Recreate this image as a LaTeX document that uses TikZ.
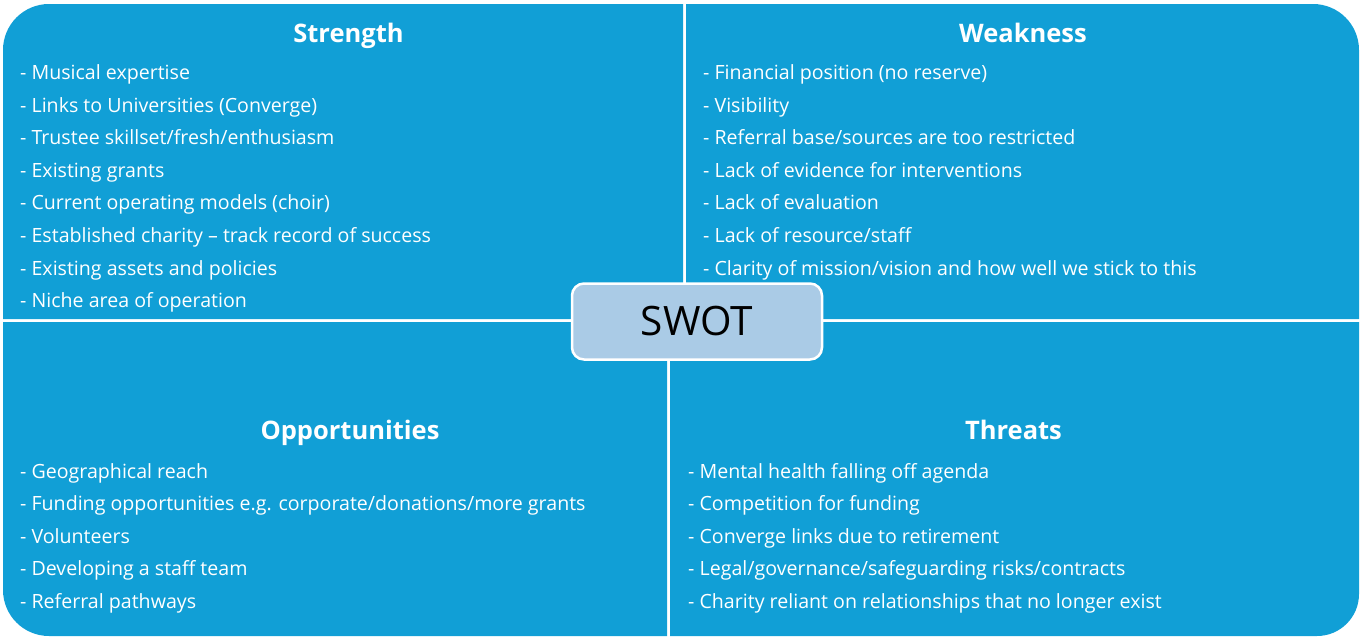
\documentclass[tikz,border=0pt]{standalone}
\usepackage{fontspec}
\setmainfont{Open Sans}
\definecolor{quadblue}{RGB}{17,159,214}
\definecolor{swotfill}{RGB}{170,203,230}
\begin{document}
\begin{tikzpicture}[x=1pt, y=-1pt,
	quad/.style={fill=quadblue, draw=none},
	title/.style={text=white, anchor=base, inner sep=0pt, font=\fontsize{25.5}{30}\selectfont\bfseries},
	item/.style={text=white, anchor=base west, inner sep=0pt, font=\fontsize{19.6}{24}\selectfont},
	swotbox/.style={rectangle, rounded corners=12, draw=white, line width=2.5pt, fill=swotfill, minimum width=250, minimum height=76, font=\fontsize{40.5}{48}\selectfont}]
		\useasboundingbox (0,0) rectangle (1361,638);
		
		% four quarters, outer corners rounded
		\fill[quad] (3,160) [rounded corners=46] -- (3,4) -- (340,4) [sharp corners] -- (683,4) -- (683,319) -- (3,319) -- cycle;
		\fill[quad] (1000,4) [rounded corners=46] -- (1359,4) -- (1359,160) [sharp corners] -- (1359,319) -- (686,319) -- (686,4) -- cycle;
		\fill[quad] (3,480) [rounded corners=46] -- (3,636) -- (340,636) [sharp corners] -- (667,636) -- (667,322) -- (3,322) -- cycle;
		\fill[quad] (1000,636) [rounded corners=42] -- (1359,636) -- (1359,480) [sharp corners] -- (1359,322) -- (670,322) -- (670,636) -- cycle;
		
		\node (swot) at (697,321.5) [swotbox] {SWOT};
		
		\node (st) at (348.5,42) [title] {Strength};
		\node (s1) at (20,79.5) [item] {- Musical expertise};
		\node (s2) at (20,112.1) [item] {- Links to Universities (Converge)};
		\node (s3) at (20,144.7) [item] {- Trustee skillset/fresh/enthusiasm};
		\node (s4) at (20,177.3) [item] {- Existing grants};
		\node (s5) at (20,209.9) [item] {- Current operating models (choir)};
		\node (s6) at (20,242.5) [item] {- Established charity \textendash{} track record of success};
		\node (s7) at (20,275.1) [item] {- Existing assets and policies};
		\node (s8) at (20,307.7) [item] {- Niche area of operation};
		
		\node (wt) at (1023,42) [title] {Weakness};
		\node (w1) at (703,79.5) [item] {- Financial position (no reserve)};
		\node (w2) at (703,112.1) [item] {- Visibility};
		\node (w3) at (703,144.7) [item] {- Referral base/sources are too restricted};
		\node (w4) at (703,177.3) [item] {- Lack of evidence for interventions};
		\node (w5) at (703,209.9) [item] {- Lack of evaluation};
		\node (w6) at (703,242.5) [item] {- Lack of resource/staff};
		\node (w7) at (703,275.1) [item] {- Clarity of mission/vision and how well we stick to this};
		
		\node (ot) at (350,439.5) [title] {Opportunities};
		\node (o1) at (20,478) [item] {- Geographical reach};
		\node (o2) at (20,510.6) [item] {- Funding opportunities e.g. corporate/donations/more grants};
		\node (o3) at (20,543.2) [item] {- Volunteers};
		\node (o4) at (20,575.8) [item] {- Developing a staff team};
		\node (o5) at (20,608.4) [item] {- Referral pathways};
		
		\node (tt) at (1013.5,439.5) [title] {Threats};
		\node (t1) at (688,478) [item] {- Mental health falling off agenda};
		\node (t2) at (688,510.6) [item] {- Competition for funding};
		\node (t3) at (688,543.2) [item] {- Converge links due to retirement};
		\node (t4) at (688,575.8) [item] {- Legal/governance/safeguarding risks/contracts};
		\node (t5) at (688,608.4) [item] {- Charity reliant on relationships that no longer exist};
		
	\end{tikzpicture}
\end{document}
